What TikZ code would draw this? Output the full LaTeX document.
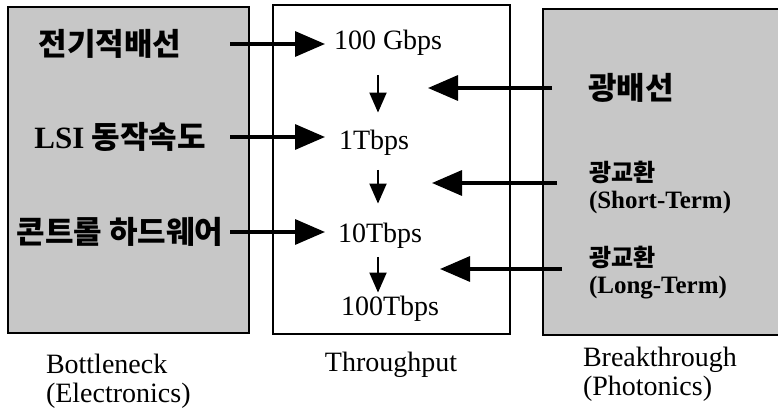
\documentclass[tikz,border=0pt]{standalone}
\usepackage{fontspec}
\setmainfont{Liberation Serif}
\newfontfamily\krfont{Noto Sans CJK KR}
\usetikzlibrary{arrows.meta, calc}

\begin{document}
\begin{tikzpicture}[x=1pt, y=-1pt, line width=2pt,
  panel/.style={draw=black, line width=2pt},
  kor/.style={font=\krfont\bfseries\fontsize{31}{32}\selectfont, inner sep=0pt},
  rate/.style={font=\fontsize{28}{30}\selectfont, inner sep=0pt, anchor=base west},
  photo/.style={font=\bfseries\fontsize{25}{27}\selectfont, inner sep=0pt, anchor=west, align=left},
  caption/.style={font=\fontsize{28}{29}\selectfont, inner sep=0pt, align=left},
  bigarr/.style={-{Triangle[length=30pt, width=25pt]}, line width=3.3pt},
  downarr/.style={-{Triangle[length=20pt, width=17pt]}, line width=2pt}]
  \useasboundingbox (0,0) rectangle (778,411);
  % --- panels ---
  \filldraw[panel, fill=black!22] (8,7) rectangle (249,333);
  \draw[panel] (273,5) rectangle (510,334);
  \filldraw[panel, fill=black!22] (543,9) rectangle (790,335);
  % --- left panel: bottlenecks ---
  \node[kor] (wire) at (110,44) {전기적배선};
  \node[kor] (lsi) at (120,137) {{\normalfont\bfseries LSI} 동작속도};
  \node[kor] (ctrl) at (120,232) {콘트롤 하드웨어};
  % --- middle panel: throughput ---
  \node[rate] (g100) at (333,50) {100 Gbps};
  \node[rate] (t1) at (338,150) {1Tbps};
  \node[rate] (t10) at (337,243) {10Tbps};
  \node[rate] (t100) at (340,315) {100Tbps};
  % --- right panel: photonics ---
  \node[kor, anchor=west] (optw) at (587,88) {광배선};
  \node[photo] (swshort) at (588,187) {{\krfont\fontsize{24}{25}\selectfont 광교환}\\(Short-Term)};
  \node[photo] (swlong) at (588,273) {{\krfont\fontsize{24}{25}\selectfont 광교환}\\(Long-Term)};
  % --- captions ---
  \node[caption, anchor=north west] (bneck) at (45,353) {Bottleneck\\(Electronics)};
  \node[caption, anchor=north] (thru) at (391,351) {Throughput};
  \node[caption, anchor=north west] (brk) at (582,346) {Breakthrough\\(Photonics)};
  % --- arrows ---
  \coordinate (lx) at (230,0);
  \coordinate (colx) at (378,0);
  \coordinate (in1) at (428,88);
  \coordinate (in2) at (432,183);
  \coordinate (in3) at (440,269);
  \draw[bigarr, shorten >=8pt] (wire.east -| lx) -- (wire.east -| g100.west);
  \draw[bigarr, shorten >=13pt] (lsi.east -| lx) -- (lsi.east -| t1.west);
  \draw[bigarr, shorten >=12pt] (ctrl.east -| lx) -- (ctrl.east -| t10.west);
  \draw[downarr, shorten <=18pt, shorten >=17pt] (g100.south -| colx) -- (t1.north -| colx);
  \draw[downarr, shorten <=13pt, shorten >=19pt] (t1.south -| colx) -- (t10.north -| colx);
  \draw[downarr, shorten <=7pt, shorten >=2pt] (t10.south -| colx) -- (t100.north -| colx);
  \draw[bigarr, shorten <=35pt] (optw.west) -- (optw.west -| in1);
  \draw[bigarr, shorten <=31pt] (swshort.west |- in2) -- (in2);
  \draw[bigarr, shorten <=26pt] (swlong.west |- in3) -- (in3);
\end{tikzpicture}
\end{document}
